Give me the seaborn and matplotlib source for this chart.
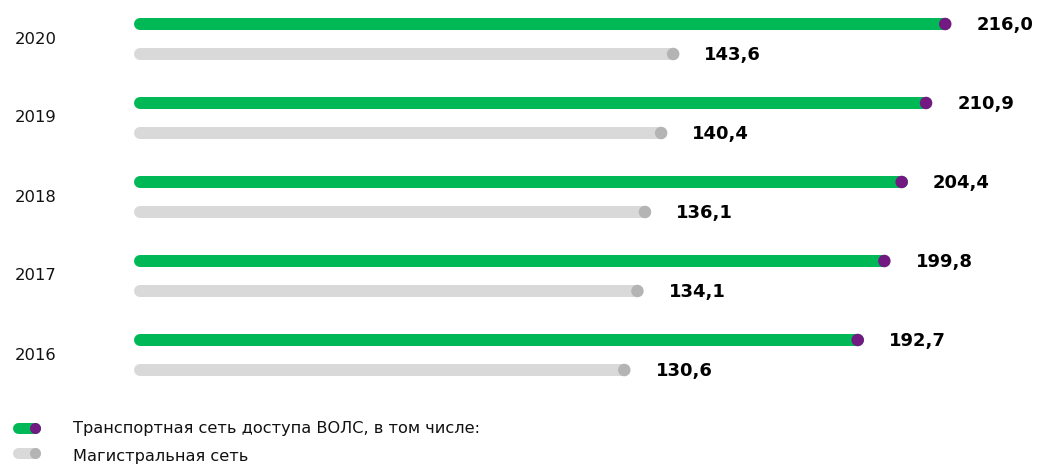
import numpy as np
import pandas as pd
import matplotlib
matplotlib.use("Agg")
import matplotlib.pyplot as plt
import seaborn as sns
from matplotlib.lines import Line2D

years = ["2020", "2019", "2018", "2017", "2016"]
transport = [216.0, 210.9, 204.4, 199.8, 192.7]
backbone = [143.6, 140.4, 136.1, 134.1, 130.6]
series_names = ["Транспортная сеть доступа ВОЛС, в том числе:", "Магистральная сеть"]

GREEN = "#00B956"
PURPLE = "#731982"
GRAY_BAR = "#D9D9D9"
GRAY_DOT = "#B4B4B4"

sns.set_theme(style="white")
plt.rcParams["font.family"] = ["DejaVu Sans"]

W, H, DPI = 1042, 467, 100
fig = plt.figure(figsize=(W / DPI, H / DPI), dpi=DPI)
ax = fig.add_axes([0, 0, 1, 1])

px_per_unit = 3.758
x0_px = 133.5
ax.set_xlim(-x0_px / px_per_unit, (W - x0_px) / px_per_unit)
row_px, row0_px = 79, 39
ax.set_ylim((H - row0_px) / row_px, -row0_px / row_px)
ax.set_axis_off()

off = 15 / row_px
rows = []
for i, y in enumerate(years):
    rows.append({"year": y, "series": series_names[0], "value": transport[i], "pos": i - off})
    rows.append({"year": y, "series": series_names[1], "value": backbone[i], "pos": i + off})
df = pd.DataFrame(rows)

bar_px = 12
lw_pt = bar_px * 72 / DPI
cap_units = (bar_px / 2) / px_per_unit
bar_colors = {series_names[0]: GREEN, series_names[1]: GRAY_BAR}
dot_colors = {series_names[0]: PURPLE, series_names[1]: GRAY_DOT}

for _, r in df.iterrows():
    ax.hlines(r["pos"], cap_units, r["value"], color=bar_colors[r["series"]],
              lw=lw_pt, capstyle="round", zorder=2)

dot_pt = 12.5 * 72 / DPI
sns.scatterplot(data=df, x="value", y="pos", hue="series", palette=dot_colors,
                s=dot_pt ** 2, linewidth=0, legend=False, ax=ax, zorder=3)

for _, r in df.iterrows():
    ax.annotate(f"{r['value']:.1f}".replace(".", ","), (r["value"], r["pos"]),
                xytext=(22.5, -0.5), textcoords="offset points", ha="left", va="center",
                fontsize=13, fontweight="bold", color="#000000")

for i, y in enumerate(years):
    ax.text(15 / W, 1 - (row0_px + row_px * i) / H, y, transform=fig.transFigure,
            ha="left", va="center", fontsize=11.8, color="#111111")

# legend
leg = [(428, 429, GREEN, PURPLE, series_names[0]), (453, 456, GRAY_BAR, GRAY_DOT, series_names[1])]
for ypx, typx, c1, c2, label in leg:
    yf = 1 - ypx / H
    fig.add_artist(Line2D([17.5 / W, 35 / W], [yf, yf], transform=fig.transFigure,
                          color=c1, lw=11 * 72 / DPI, solid_capstyle="round"))
    fig.add_artist(Line2D([34.5 / W], [yf], transform=fig.transFigure, marker="o",
                          markersize=11 * 72 / DPI, color=c2, markeredgewidth=0))
    fig.text(73 / W, 1 - typx / H, label, ha="left", va="center", fontsize=11.6, color="#111111")

fig.savefig("out.png", dpi=DPI)
